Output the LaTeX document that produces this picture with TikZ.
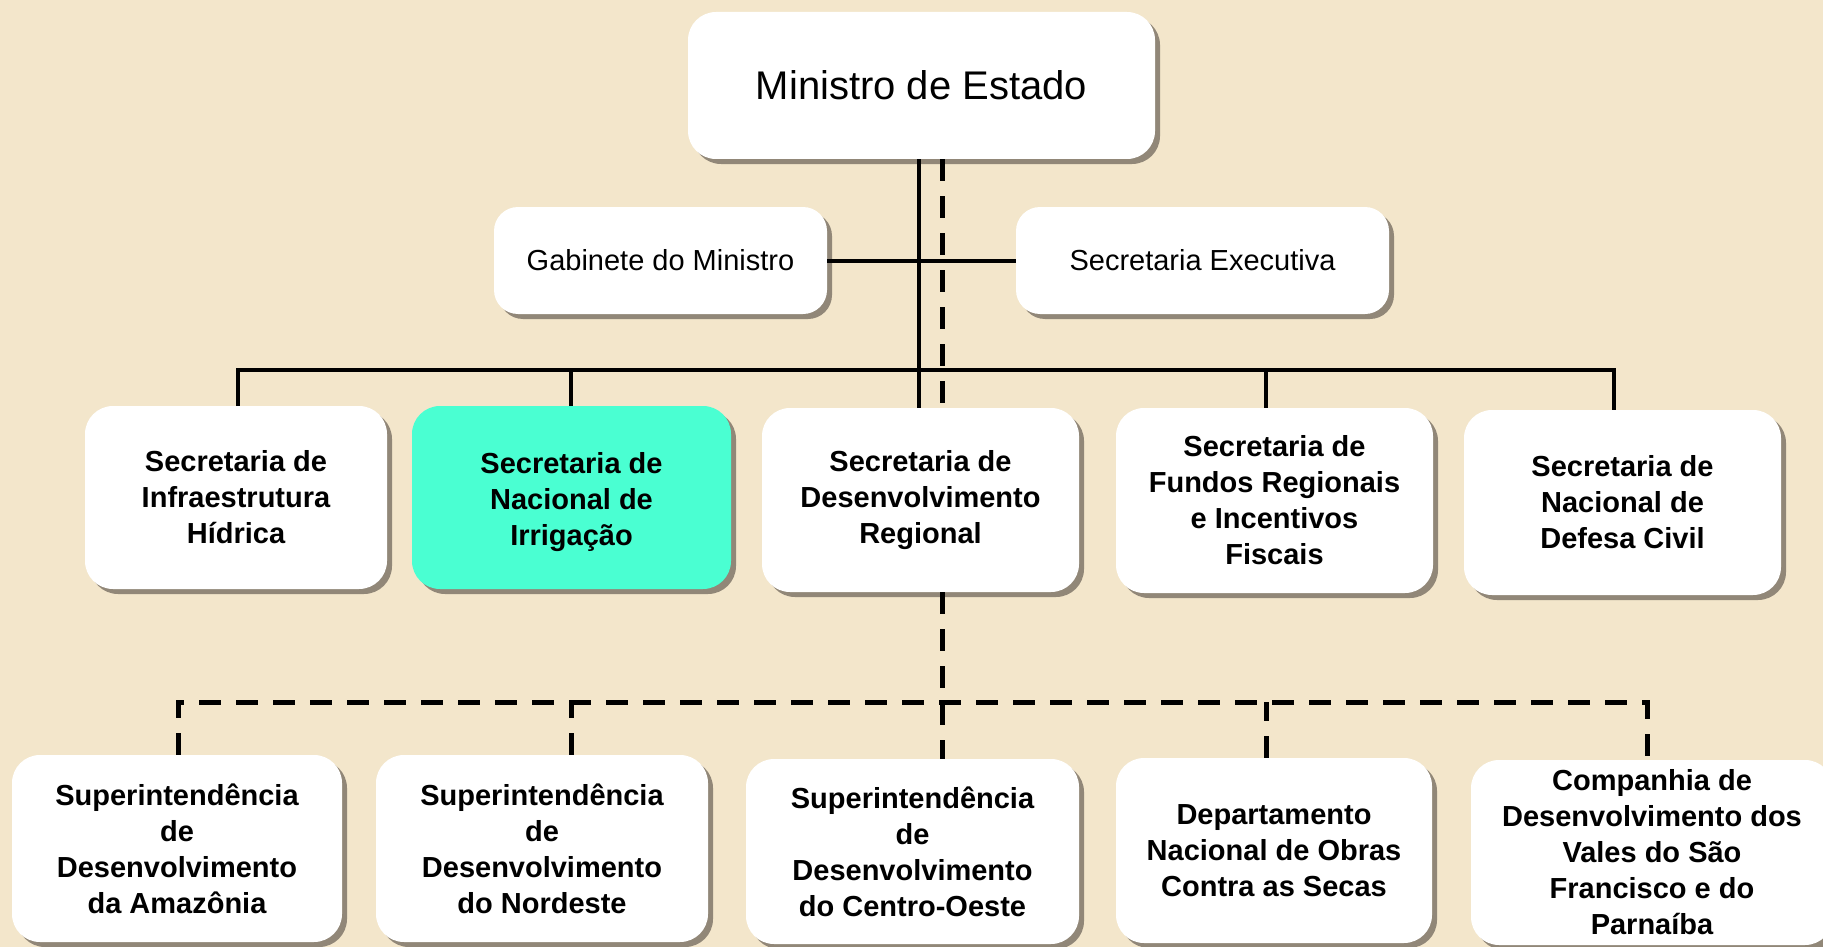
\documentclass[tikz,border=0pt]{standalone}
\usepackage{fontspec}
\setmainfont{Liberation Sans}
\usetikzlibrary{shadows}
\definecolor{bgc}{RGB}{243,230,203}
\definecolor{shd}{RGB}{145,135,120}
\definecolor{teal}{RGB}{74,255,210}
\tikzset{
  box/.style={draw=none, fill=white, rounded corners=28pt, inner sep=0pt, align=center,
    drop shadow={shadow xshift=5pt, shadow yshift=-5pt, fill=shd, opacity=1}},
  boldtxt/.style={font=\bfseries\fontsize{29}{36}\selectfont},
  regtxt/.style={font=\fontsize{29}{35}\selectfont},
  solidline/.style={line width=4pt, black},
  dashline/.style={line width=5pt, black, dash pattern=on 22pt off 15pt}
}
\begin{document}
\begin{tikzpicture}[x=1pt,y=-1pt]
\useasboundingbox (0,0) rectangle (1823,947);
\fill[bgc] (0,0) rectangle (1823,947);
% top
\node[box, minimum width=467pt, minimum height=147pt, font=\fontsize{40}{48}\selectfont] (min) at (921.5,85.5) {Ministro de Estado};
\node[box, regtxt, rounded corners=24pt, minimum width=333pt, minimum height=107pt] (gab) at (660.5,260.5) {Gabinete do Ministro};
\node[box, regtxt, rounded corners=24pt, minimum width=373pt, minimum height=107pt] (sex) at (1202.5,260.5) {Secretaria Executiva};
% row 2
\node[box, boldtxt, minimum width=302pt, minimum height=183pt] (r1) at (236,497.5) {Secretaria de\\Infraestrutura\\Hídrica};
\node[box, boldtxt, fill=teal, minimum width=319pt, minimum height=183pt] (r2) at (571.5,497.5) {\rule{0pt}{30pt}Secretaria de\\Nacional de\\Irrigação};
\node[box, boldtxt, minimum width=317pt, minimum height=184pt] (r3) at (920.5,500) {Secretaria de\\Desenvolvimento\\Regional};
\node[box, boldtxt, minimum width=317pt, minimum height=185pt] (r4) at (1274.5,500.5) {Secretaria de\\Fundos Regionais\\e Incentivos\\Fiscais};
\node[box, boldtxt, minimum width=317pt, minimum height=185pt] (r5) at (1622.5,502.5) {Secretaria de\\Nacional de\\Defesa Civil};
% row 3
\node[box, boldtxt, minimum width=330pt, minimum height=187pt] (s1) at (177,848.5) {Superintendência\\de\\Desenvolvimento\\da Amazônia};
\node[box, boldtxt, minimum width=332pt, minimum height=187pt] (s2) at (542,848.5) {Superintendência\\de\\Desenvolvimento\\do Nordeste};
\node[box, boldtxt, minimum width=333pt, minimum height=185pt] (s3) at (912.5,851.5) {Superintendência\\de\\Desenvolvimento\\do Centro-Oeste};
\node[box, boldtxt, minimum width=316pt, minimum height=185pt] (s4) at (1274,850.5) {Departamento\\Nacional de Obras\\Contra as Secas};
\node[box, boldtxt, minimum width=362pt, minimum height=185pt] (s5) at (1652,852.5) {Companhia de\\Desenvolvimento dos\\Vales do São\\Francisco e do\\Parnaíba};
% coordinates
\coordinate (sv) at (919,0);
\coordinate (dv) at (942,0);
\coordinate (bus) at (0,370);
\coordinate (bus2) at (0,702);
\coordinate (d1) at (238,0);
\coordinate (d2) at (571,0);
\coordinate (d4) at (1266,0);
\coordinate (d5) at (1614,0);
\coordinate (e1) at (178,0);
\coordinate (e2) at (571,0);
\coordinate (e4) at (1266,0);
\coordinate (e5) at (1647,0);
% solid connectors
\draw[solidline] (min.south -| sv) -- (r3.north -| sv);
\draw[solidline] (gab.east) -- (sex.west);
\draw[solidline] (r1.north -| d1) -- (bus -| d1) -- (bus -| d5) -- (r5.north -| d5);
\draw[solidline] (r2.north -| d2) -- (bus -| d2);
\draw[solidline] (r4.north -| d4) -- (bus -| d4);
% dashed connectors
\draw[dashline] (min.south -| dv) -- (r3.north -| dv);
\draw[dashline] (r3.south -| dv) -- (s3.north -| dv);
\draw[dashline] (s1.north -| e1) -- (bus2 -| e1) -- (bus2 -| e5) -- (s5.north -| e5);
\draw[dashline] (s2.north -| e2) -- (bus2 -| e2);
\draw[dashline] (s4.north -| e4) -- (bus2 -| e4);
\end{tikzpicture}
\end{document}
